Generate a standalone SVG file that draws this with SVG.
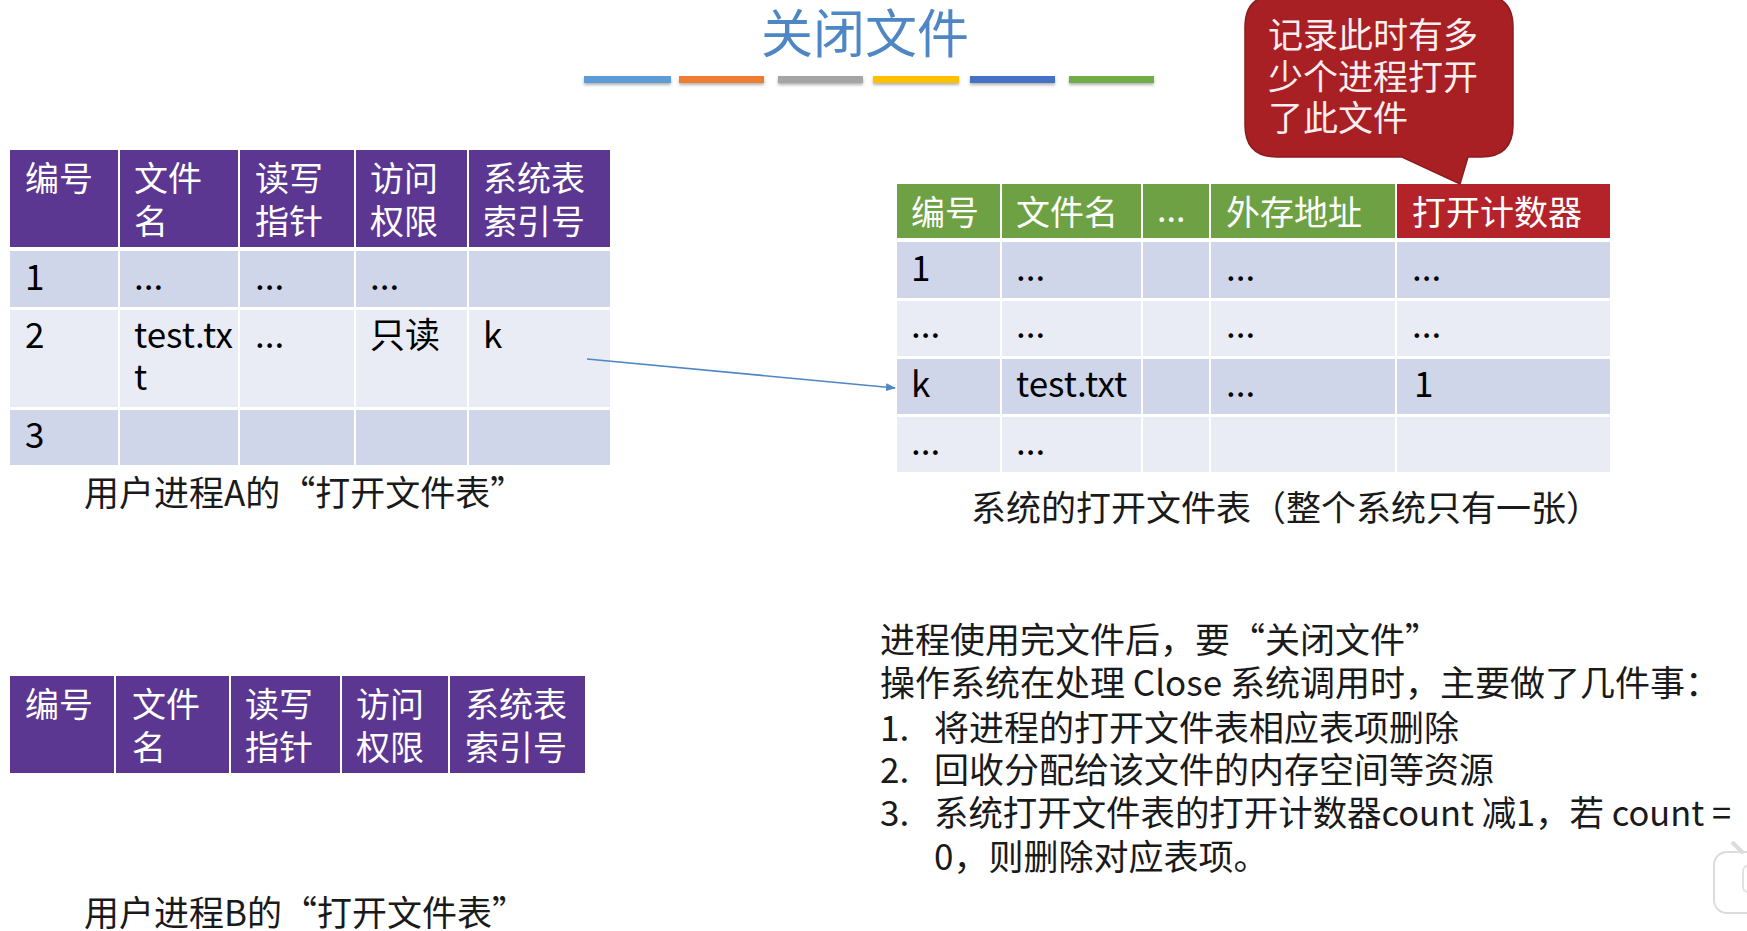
<svg xmlns="http://www.w3.org/2000/svg" width="1747" height="931" viewBox="0 0 1747 931">
<style>
text{font-family:"Noto Sans CJK SC","Liberation Sans",sans-serif;}
.hd{fill:#ffffff;font-size:34px;}
.cell{fill:#000000;font-size:35px;}
.body{fill:#1a1a1a;font-size:35px;}
.pur{fill:#5c3791;}
.grn{fill:#6ea143;}
.redh{fill:#b4232a;}
.dk{fill:#cfd6ea;}
.lt{fill:#e9ecf5;}
.co{font-size:35px;fill:#fbeeee;}
</style>
<defs>
<filter id="sh" x="-10%" y="-100%" width="120%" height="400%">
<feDropShadow dx="0" dy="2" stdDeviation="1.5" flood-color="#000" flood-opacity="0.3"/>
</filter>
<marker id="arr" markerWidth="10" markerHeight="10" refX="9" refY="5" orient="auto" markerUnits="userSpaceOnUse">
<path d="M0,1 L10,5 L0,9 Z" fill="#4f86c6"/>
</marker>
</defs>
<rect width="1747" height="931" fill="#ffffff"/>

<g id="title">
<text x="865" y="53" text-anchor="middle" style="font-size:52px;fill:#4f86c4">关闭文件</text>
<g filter="url(#sh)">
<rect x="584" y="76" width="87" height="7" fill="#5b9bd5"/>
<rect x="679" y="76" width="85" height="7" fill="#ed7d31"/>
<rect x="778" y="76" width="85" height="7" fill="#a5a5a5"/>
<rect x="873" y="76" width="86" height="7" fill="#ffc000"/>
<rect x="970" y="76" width="85" height="7" fill="#4472c4"/>
<rect x="1069" y="76" width="85" height="7" fill="#70ad47"/>
</g>
</g>

<g id="tableA">
<rect class="pur" x="10" y="150" width="108" height="97"/>
<rect class="pur" x="120" y="150" width="118" height="97"/>
<rect class="pur" x="240" y="150" width="114" height="97"/>
<rect class="pur" x="356" y="150" width="111" height="97"/>
<rect class="pur" x="469" y="150" width="141" height="97"/>
<rect class="dk" x="10" y="251" width="108" height="56"/>
<rect class="dk" x="120" y="251" width="118" height="56"/>
<rect class="dk" x="240" y="251" width="114" height="56"/>
<rect class="dk" x="356" y="251" width="111" height="56"/>
<rect class="dk" x="469" y="251" width="141" height="56"/>
<rect class="lt" x="10" y="310" width="108" height="97"/>
<rect class="lt" x="120" y="310" width="118" height="97"/>
<rect class="lt" x="240" y="310" width="114" height="97"/>
<rect class="lt" x="356" y="310" width="111" height="97"/>
<rect class="lt" x="469" y="310" width="141" height="97"/>
<rect class="dk" x="10" y="410" width="108" height="55"/>
<rect class="dk" x="120" y="410" width="118" height="55"/>
<rect class="dk" x="240" y="410" width="114" height="55"/>
<rect class="dk" x="356" y="410" width="111" height="55"/>
<rect class="dk" x="469" y="410" width="141" height="55"/>
<text class="hd" x="25" y="191">编号</text>
<text class="hd" x="134" y="191">文件</text>
<text class="hd" x="134" y="234">名</text>
<text class="hd" x="255" y="191">读写</text>
<text class="hd" x="255" y="234">指针</text>
<text class="hd" x="370" y="191">访问</text>
<text class="hd" x="370" y="234">权限</text>
<text class="hd" x="483" y="191">系统表</text>
<text class="hd" x="483" y="234">索引号</text>
<text class="cell" x="25" y="290">1</text>
<text class="cell" x="134" y="290">...</text>
<text class="cell" x="255" y="290">...</text>
<text class="cell" x="370" y="290">...</text>
<text class="cell" x="25" y="348">2</text>
<text class="cell" x="134" y="348">test.tx</text>
<text class="cell" x="134" y="390">t</text>
<text class="cell" x="255" y="348">...</text>
<text class="cell" x="370" y="348">只读</text>
<text class="cell" x="483" y="348">k</text>
<text class="cell" x="25" y="448">3</text>
<text class="body" x="84" y="506">用户进程A的“打开文件表”</text>
</g>

<g id="tableSys">
<rect class="grn" x="897" y="184" width="103" height="54"/>
<rect class="grn" x="1002" y="184" width="139" height="54"/>
<rect class="grn" x="1143" y="184" width="66" height="54"/>
<rect class="grn" x="1211" y="184" width="184" height="54"/>
<rect class="redh" x="1397" y="184" width="213" height="54"/>
<rect class="dk" x="897" y="242" width="103" height="56"/>
<rect class="dk" x="1002" y="242" width="139" height="56"/>
<rect class="dk" x="1143" y="242" width="66" height="56"/>
<rect class="dk" x="1211" y="242" width="184" height="56"/>
<rect class="dk" x="1397" y="242" width="213" height="56"/>
<rect class="lt" x="897" y="301" width="103" height="55"/>
<rect class="lt" x="1002" y="301" width="139" height="55"/>
<rect class="lt" x="1143" y="301" width="66" height="55"/>
<rect class="lt" x="1211" y="301" width="184" height="55"/>
<rect class="lt" x="1397" y="301" width="213" height="55"/>
<rect class="dk" x="897" y="359" width="103" height="55"/>
<rect class="dk" x="1002" y="359" width="139" height="55"/>
<rect class="dk" x="1143" y="359" width="66" height="55"/>
<rect class="dk" x="1211" y="359" width="184" height="55"/>
<rect class="dk" x="1397" y="359" width="213" height="55"/>
<rect class="lt" x="897" y="417" width="103" height="55"/>
<rect class="lt" x="1002" y="417" width="139" height="55"/>
<rect class="lt" x="1143" y="417" width="66" height="55"/>
<rect class="lt" x="1211" y="417" width="184" height="55"/>
<rect class="lt" x="1397" y="417" width="213" height="55"/>
<text class="hd" x="911" y="225">编号</text>
<text class="hd" x="1016" y="225">文件名</text>
<text class="hd" x="1157" y="222">...</text>
<text class="hd" x="1226" y="225">外存地址</text>
<text class="hd" x="1412" y="225">打开计数器</text>
<text class="cell" x="911" y="281">1</text>
<text class="cell" x="1016" y="281">...</text>
<text class="cell" x="1226" y="281">...</text>
<text class="cell" x="1412" y="281">...</text>
<text class="cell" x="911" y="338">...</text>
<text class="cell" x="1016" y="338">...</text>
<text class="cell" x="1226" y="338">...</text>
<text class="cell" x="1412" y="338">...</text>
<text class="cell" x="911" y="397">k</text>
<text class="cell" x="1016" y="397">test.txt</text>
<text class="cell" x="1226" y="397">...</text>
<text class="cell" x="1414" y="397">1</text>
<text class="cell" x="911" y="455">...</text>
<text class="cell" x="1016" y="455">...</text>
<text class="body" x="971" y="521">系统的打开文件表（整个系统只有一张）</text>
</g>

<g id="callout">
<path d="M1277,-5 H1481 Q1513,-5 1513,27 V125 Q1513,157 1481,157 H1468 L1460,184 L1402,157 H1277 Q1245,157 1245,125 V27 Q1245,-5 1277,-5 Z" fill="#a81f24" stroke="#8c1a1e" stroke-width="1.5"/>
<text class="co" x="1268" y="48">记录此时有多</text>
<text class="co" x="1268" y="90">少个进程打开</text>
<text class="co" x="1268" y="131">了此文件</text>
</g>

<g id="tableB">
<rect class="pur" x="10" y="676" width="104" height="97"/>
<rect class="pur" x="116" y="676" width="113" height="97"/>
<rect class="pur" x="231" y="676" width="109" height="97"/>
<rect class="pur" x="342" y="676" width="106" height="97"/>
<rect class="pur" x="450" y="676" width="135" height="97"/>
<text class="hd" x="25" y="717">编号</text>
<text class="hd" x="132" y="717">文件</text>
<text class="hd" x="132" y="760">名</text>
<text class="hd" x="245" y="717">读写</text>
<text class="hd" x="245" y="760">指针</text>
<text class="hd" x="356" y="717">访问</text>
<text class="hd" x="356" y="760">权限</text>
<text class="hd" x="465" y="717">系统表</text>
<text class="hd" x="465" y="760">索引号</text>
<text class="body" x="84" y="926">用户进程B的“打开文件表”</text>
</g>

<g id="notes">
<text class="body" x="880" y="653">进程使用完文件后，要“关闭文件”</text>
<text class="body" x="880" y="696">操作系统在处理 Close 系统调用时，主要做了几件事：</text>
<text class="body" x="880" y="741">1.</text>
<text class="body" x="934" y="741">将进程的打开文件表相应表项删除</text>
<text class="body" x="880" y="783">2.</text>
<text class="body" x="934" y="783">回收分配给该文件的内存空间等资源</text>
<text class="body" x="880" y="826">3.</text>
<text class="body" x="934" y="826" textLength="797" lengthAdjust="spacingAndGlyphs">系统打开文件表的打开计数器count 减1，若 count =</text>
<text class="body" x="934" y="870">0，则删除对应表项。</text>
</g>

<g id="icon">
<rect x="1714" y="852" width="70" height="61" rx="13" fill="#ffffff" stroke="#dcdcdc" stroke-width="2"/>
<line x1="1733" y1="843" x2="1742" y2="852" stroke="#dcdcdc" stroke-width="4" stroke-linecap="round"/>
<rect x="1743" y="866" width="20" height="26" rx="5" fill="none" stroke="#e2e2e2" stroke-width="2"/>
</g>

<g id="connectors">
<line x1="587" y1="359" x2="895" y2="388" stroke="#4f86c6" stroke-width="1.6" marker-end="url(#arr)"/>
</g>
</svg>
